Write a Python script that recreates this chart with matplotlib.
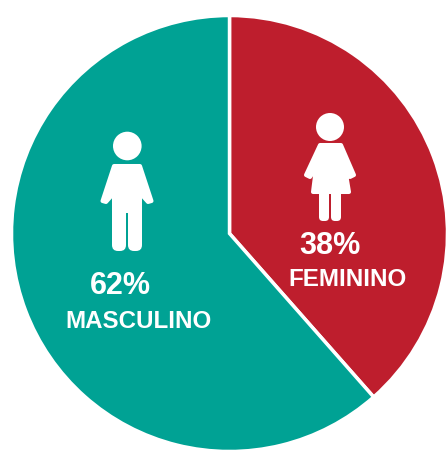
import matplotlib
matplotlib.use("Agg")
import matplotlib.pyplot as plt
from matplotlib.patches import Circle, FancyBboxPatch, Polygon

labels = ["FEMININO", "MASCULINO"]
pct_labels = ["38%", "62%"]
values = [38.5, 61.5]
colours = ["#BE1E2D", "#00A294"]

W, H = 447, 455

fig = plt.figure(figsize=(W / 100, H / 100), dpi=100)
ax = fig.add_axes([0, 0, 1, 1])

# pie in pixel coordinates, y axis is flipped so counterclock reads clockwise on screen
ax.pie(values, colors=colours, startangle=-90, counterclock=True, center=(229.5, 233.5), radius=218,
       wedgeprops=dict(edgecolor="white", linewidth=2.5), frame=True)
ax.set_xlim(0, W)
ax.set_ylim(H, 0)
ax.axis("off")


def bar(x, y, w, h, r):
    ax.add_patch(FancyBboxPatch((x + r, y + r), w - 2 * r, h - 2 * r,
                                boxstyle="round,pad=%f" % r, fc="white", ec="none"))


# boy
ax.add_patch(Circle((127.3, 146), 14.3, fc="white", ec="none"))
ax.add_patch(Polygon([[114, 166], [140, 166], [151.5, 201], [148, 202], [140, 193], [140, 211],
                      [114, 211], [114, 193], [106, 202], [102.5, 201]],
                     fc="white", ec="white", lw=2.9, joinstyle="round"))
bar(112, 205, 14, 46, 6)
bar(128, 205, 14, 46, 6)

# girl
ax.add_patch(Circle((330, 127), 14, fc="white", ec="none"))
ax.add_patch(Polygon([[320, 145], [341, 145], [354, 175], [350, 177], [345, 168], [349, 192],
                      [313, 192], [316, 168], [310, 177], [306, 175]],
                     fc="white", ec="white", lw=2.9, joinstyle="round"))
bar(319, 190, 10, 31, 4)
bar(331, 190, 10, 31, 4)

font = ["Liberation Sans", "DejaVu Sans"]
ax.text(120.5, 285.5, pct_labels[1], color="white", fontsize=22, fontweight="bold", family=font,
        ha="center", va="center")
ax.text(138.5, 322, labels[1], color="white", fontsize=17.4, fontweight="bold", family=font,
        ha="center", va="center")
ax.text(330, 246, pct_labels[0], color="white", fontsize=22, fontweight="bold", family=font,
        ha="center", va="center")
ax.text(347, 280, labels[0], color="white", fontsize=17.4, fontweight="bold", family=font,
        ha="center", va="center")

fig.savefig("out.png", dpi=100, facecolor="white")
